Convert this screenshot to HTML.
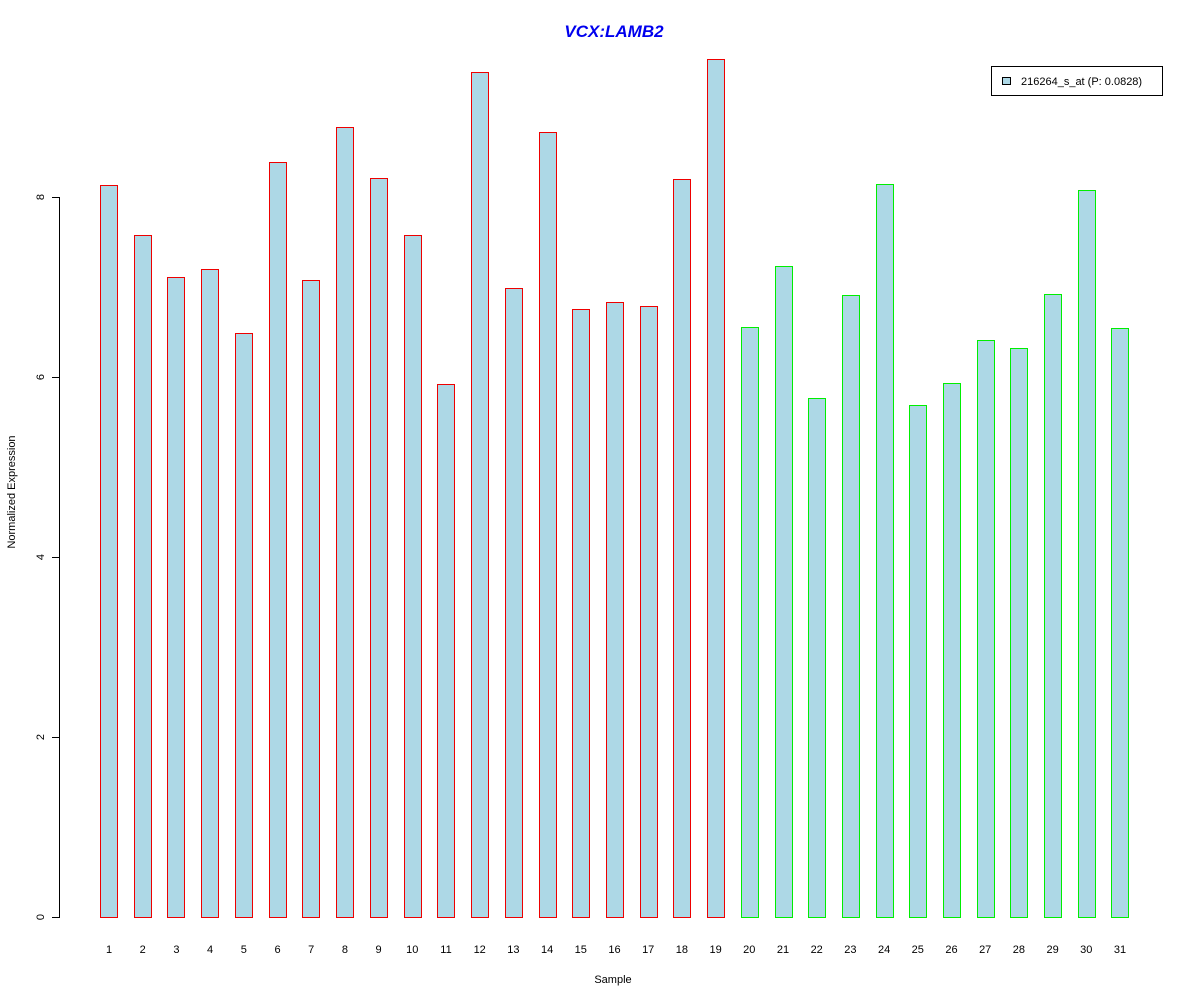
<!DOCTYPE html>
<html><head><meta charset="utf-8"><style>body{margin:0;background:#fff}svg{display:block}text{font-family:"Liberation Sans",sans-serif}</style></head><body>
<svg width="1200" height="1000" viewBox="0 0 1200 1000" xmlns="http://www.w3.org/2000/svg" shape-rendering="crispEdges">
<rect width="1200" height="1000" fill="#fff"/>
<text x="614" y="37" text-anchor="middle" font-size="17" font-weight="bold" font-style="italic" fill="#0000ee">VCX:LAMB2</text>
<g fill="#000">
<rect x="59" y="197" width="1" height="721"/>
<rect x="52" y="917" width="8" height="1"/>
<rect x="52" y="737" width="8" height="1"/>
<rect x="52" y="557" width="8" height="1"/>
<rect x="52" y="377" width="8" height="1"/>
<rect x="52" y="197" width="8" height="1"/>
</g>
<g font-size="11" text-anchor="middle">
<text transform="translate(44,917) rotate(-90)">0</text>
<text transform="translate(44,737) rotate(-90)">2</text>
<text transform="translate(44,557) rotate(-90)">4</text>
<text transform="translate(44,377) rotate(-90)">6</text>
<text transform="translate(44,197) rotate(-90)">8</text>
<text transform="translate(15,492) rotate(-90)">Normalized Expression</text>
<text x="613" y="983">Sample</text>
</g>
<g fill="#ee0000">
<rect x="100" y="185" width="18" height="733"/>
<rect x="134" y="235" width="18" height="683"/>
<rect x="167" y="277" width="18" height="641"/>
<rect x="201" y="269" width="18" height="649"/>
<rect x="235" y="333" width="18" height="585"/>
<rect x="269" y="162" width="18" height="756"/>
<rect x="302" y="280" width="18" height="638"/>
<rect x="336" y="127" width="18" height="791"/>
<rect x="370" y="178" width="18" height="740"/>
<rect x="404" y="235" width="18" height="683"/>
<rect x="437" y="384" width="18" height="534"/>
<rect x="471" y="72" width="18" height="846"/>
<rect x="505" y="288" width="18" height="630"/>
<rect x="539" y="132" width="18" height="786"/>
<rect x="572" y="309" width="18" height="609"/>
<rect x="606" y="302" width="18" height="616"/>
<rect x="640" y="306" width="18" height="612"/>
<rect x="673" y="179" width="18" height="739"/>
<rect x="707" y="59" width="18" height="859"/>
</g>
<g fill="#00ee00">
<rect x="741" y="327" width="18" height="591"/>
<rect x="775" y="266" width="18" height="652"/>
<rect x="808" y="398" width="18" height="520"/>
<rect x="842" y="295" width="18" height="623"/>
<rect x="876" y="184" width="18" height="734"/>
<rect x="909" y="405" width="18" height="513"/>
<rect x="943" y="383" width="18" height="535"/>
<rect x="977" y="340" width="18" height="578"/>
<rect x="1010" y="348" width="18" height="570"/>
<rect x="1044" y="294" width="18" height="624"/>
<rect x="1078" y="190" width="18" height="728"/>
<rect x="1111" y="328" width="18" height="590"/>
</g>
<g fill="#add8e6">
<rect x="101" y="186" width="16" height="731"/>
<rect x="135" y="236" width="16" height="681"/>
<rect x="168" y="278" width="16" height="639"/>
<rect x="202" y="270" width="16" height="647"/>
<rect x="236" y="334" width="16" height="583"/>
<rect x="270" y="163" width="16" height="754"/>
<rect x="303" y="281" width="16" height="636"/>
<rect x="337" y="128" width="16" height="789"/>
<rect x="371" y="179" width="16" height="738"/>
<rect x="405" y="236" width="16" height="681"/>
<rect x="438" y="385" width="16" height="532"/>
<rect x="472" y="73" width="16" height="844"/>
<rect x="506" y="289" width="16" height="628"/>
<rect x="540" y="133" width="16" height="784"/>
<rect x="573" y="310" width="16" height="607"/>
<rect x="607" y="303" width="16" height="614"/>
<rect x="641" y="307" width="16" height="610"/>
<rect x="674" y="180" width="16" height="737"/>
<rect x="708" y="60" width="16" height="857"/>
<rect x="742" y="328" width="16" height="589"/>
<rect x="776" y="267" width="16" height="650"/>
<rect x="809" y="399" width="16" height="518"/>
<rect x="843" y="296" width="16" height="621"/>
<rect x="877" y="185" width="16" height="732"/>
<rect x="910" y="406" width="16" height="511"/>
<rect x="944" y="384" width="16" height="533"/>
<rect x="978" y="341" width="16" height="576"/>
<rect x="1011" y="349" width="16" height="568"/>
<rect x="1045" y="295" width="16" height="622"/>
<rect x="1079" y="191" width="16" height="726"/>
<rect x="1112" y="329" width="16" height="588"/>
</g>
<g font-size="11" text-anchor="middle">
<text x="109" y="953">1</text><text x="142.7" y="953">2</text><text x="176.4" y="953">3</text><text x="210.1" y="953">4</text><text x="243.8" y="953">5</text><text x="277.5" y="953">6</text><text x="311.2" y="953">7</text><text x="344.9" y="953">8</text><text x="378.6" y="953">9</text><text x="412.3" y="953">10</text><text x="446" y="953">11</text><text x="479.7" y="953">12</text><text x="513.4" y="953">13</text><text x="547.1" y="953">14</text><text x="580.8" y="953">15</text><text x="614.5" y="953">16</text><text x="648.2" y="953">17</text><text x="681.9" y="953">18</text><text x="715.6" y="953">19</text><text x="749.3" y="953">20</text><text x="783" y="953">21</text><text x="816.7" y="953">22</text><text x="850.4" y="953">23</text><text x="884.1" y="953">24</text><text x="917.8" y="953">25</text><text x="951.5" y="953">26</text><text x="985.2" y="953">27</text><text x="1018.9" y="953">28</text><text x="1052.6" y="953">29</text><text x="1086.3" y="953">30</text><text x="1120" y="953">31</text>
</g>
<rect x="991" y="66" width="172" height="30" fill="#000"/>
<rect x="992" y="67" width="170" height="28" fill="#fff"/>
<rect x="1002" y="77" width="9" height="8" fill="#000"/>
<rect x="1003" y="78" width="7" height="6" fill="#add8e6"/>
<text x="1021" y="85" font-size="11" shape-rendering="auto">216264_s_at (P: 0.0828)</text>
</svg>
</body></html>
